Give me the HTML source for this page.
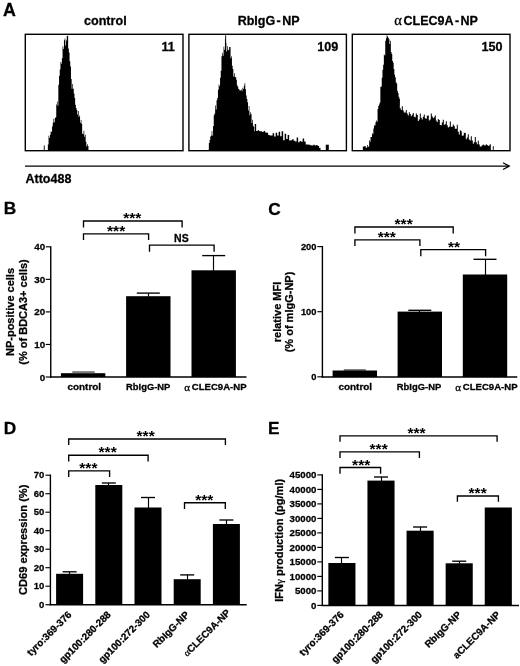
<!DOCTYPE html>
<html><head><meta charset="utf-8"><title>Figure</title>
<style>
html,body{margin:0;padding:0;background:#fff;}
body{width:520px;height:666px;overflow:hidden;font-family:"Liberation Sans", sans-serif;}
svg{display:block;filter:grayscale(1);}
text{stroke:#000;stroke-width:0.28px;stroke-linejoin:round;}
svg{font-family:"Liberation Sans", sans-serif;fill:#000;}
</style></head><body>
<svg width="520" height="666" viewBox="0 0 520 666">
<rect x="0" y="0" width="520" height="666" fill="#fff"/>
<text x="2.9" y="15.9" font-size="17.8" text-anchor="start" font-weight="bold" >A</text>
<text x="105.3" y="25" font-size="12.6" text-anchor="middle" font-weight="bold" >control</text>
<text x="237.7" y="25" font-size="12.5" text-anchor="start" font-weight="bold" >RbIgG<tspan dx="1.4">-</tspan><tspan dx="1.4">NP</tspan></text>
<text x="394.3" y="25" font-size="12.2" text-anchor="start" font-weight="bold" ><tspan font-family='"Liberation Serif", serif' font-weight="normal" font-size="14.5">α</tspan></text>
<text x="403.6" y="25" font-size="12.5" text-anchor="start" font-weight="bold" >CLEC9A<tspan dx="1.4">-</tspan><tspan dx="1.4">NP</tspan></text>
<rect x="25.3" y="34.3" width="157.7" height="116.39999999999999" fill="none" stroke="#000" stroke-width="1.4"/>
<rect x="188.9" y="34.3" width="157.49999999999997" height="116.39999999999999" fill="none" stroke="#000" stroke-width="1.4"/>
<rect x="352.3" y="34.3" width="157.7" height="116.39999999999999" fill="none" stroke="#000" stroke-width="1.4"/>
<text x="174.9" y="51.2" font-size="12.6" text-anchor="end" font-weight="bold" >11</text>
<text x="338.2" y="51.2" font-size="12.6" text-anchor="end" font-weight="bold" >109</text>
<text x="502.6" y="51.2" font-size="12.6" text-anchor="end" font-weight="bold" >150</text>
<polygon fill="#000" points="47.50,150.70 47.15,150.11 47.85,150.11 47.85,144.56 48.55,144.56 48.55,135.79 49.25,135.79 49.25,137.94 49.95,137.94 49.95,134.73 50.65,134.73 50.65,131.18 51.35,131.18 51.35,132.11 52.05,132.11 52.05,126.41 52.75,126.41 52.75,122.75 53.45,122.75 53.45,118.69 54.15,118.69 54.15,122.34 54.85,122.34 54.85,118.12 55.55,118.12 55.55,117.31 56.25,117.31 56.25,104.46 56.95,104.46 56.95,101.59 57.65,101.59 57.65,105.84 58.35,105.84 58.35,84.73 59.05,84.73 59.05,75.75 59.75,75.75 59.75,69.54 60.45,69.54 60.45,62.00 61.15,62.00 61.15,63.77 61.85,63.77 61.85,58.18 62.55,58.18 62.55,46.43 63.25,46.43 63.25,49.11 63.95,49.11 63.95,40.21 64.65,40.21 64.65,38.44 65.35,38.44 65.35,45.55 66.05,45.55 66.05,40.49 66.75,40.49 66.75,36.06 67.45,36.06 67.45,35.81 68.15,35.81 68.15,48.49 68.85,48.49 68.85,52.57 69.55,52.57 69.55,61.15 70.25,61.15 70.25,66.40 70.95,66.40 70.95,78.88 71.65,78.88 71.65,88.71 72.35,88.71 72.35,84.12 73.05,84.12 73.05,88.75 73.75,88.75 73.75,93.55 74.45,93.55 74.45,97.93 75.15,97.93 75.15,104.74 75.85,104.74 75.85,108.03 76.55,108.03 76.55,110.05 77.25,110.05 77.25,114.58 77.95,114.58 77.95,110.93 78.65,110.93 78.65,116.92 79.35,116.92 79.35,115.55 80.05,115.55 80.05,122.67 80.75,122.67 80.75,120.12 81.45,120.12 81.45,124.10 82.15,124.10 82.15,133.87 82.85,133.87 82.85,134.28 83.55,134.28 83.55,130.81 84.25,130.81 84.25,136.70 84.95,136.70 84.95,134.81 85.65,134.81 85.65,141.82 86.35,141.82 86.35,146.46 87.05,146.46 87.05,144.35 87.75,144.35 87.75,146.00 88.45,146.00 88.45,150.04 89.15,150.04 89.00,150.70"/>
<rect x="43.80" y="145.50" width="0.90" height="4.80" fill="#000"/>
<polygon fill="#000" points="208.50,150.70 208.15,149.73 208.85,149.73 208.85,142.89 209.55,142.89 209.55,140.05 210.25,140.05 210.25,136.55 210.95,136.55 210.95,135.56 211.65,135.56 211.65,131.12 212.35,131.12 212.35,135.77 213.05,135.77 213.05,126.10 213.75,126.10 213.75,115.28 214.45,115.28 214.45,113.60 215.15,113.60 215.15,105.46 215.85,105.46 215.85,109.57 216.55,109.57 216.55,100.37 217.25,100.37 217.25,98.01 217.95,98.01 217.95,89.76 218.65,89.76 218.65,84.50 219.35,84.50 219.35,86.33 220.05,86.33 220.05,77.71 220.75,77.71 220.75,70.64 221.45,70.64 221.45,56.13 222.15,56.13 222.15,52.78 222.85,52.78 222.85,55.75 223.55,55.75 223.55,46.87 224.25,46.87 224.25,49.87 224.95,49.87 224.95,38.60 225.65,38.60 225.65,42.72 226.35,42.72 226.35,51.60 227.05,51.60 227.05,46.19 227.75,46.19 227.75,49.81 228.45,49.81 228.45,50.21 229.15,50.21 229.15,47.10 229.85,47.10 229.85,46.88 230.55,46.88 230.55,58.23 231.25,58.23 231.25,56.22 231.95,56.22 231.95,65.78 232.65,65.78 232.65,69.04 233.35,69.04 233.35,76.50 234.05,76.50 234.05,73.32 234.75,73.32 234.75,76.93 235.45,76.93 235.45,77.18 236.15,77.18 236.15,79.63 236.85,79.63 236.85,85.27 237.55,85.27 237.55,86.70 238.25,86.70 238.25,88.98 238.95,88.98 238.95,89.59 239.65,89.59 239.65,90.69 240.35,90.69 240.35,90.29 241.05,90.29 241.05,89.42 241.75,89.42 241.75,91.15 242.45,91.15 242.45,87.76 243.15,87.76 243.15,88.97 243.85,88.97 243.85,85.80 244.55,85.80 244.55,83.30 245.25,83.30 245.25,89.33 245.95,89.33 245.95,95.60 246.65,95.60 246.65,99.10 247.35,99.10 247.35,102.21 248.05,102.21 248.05,110.61 248.75,110.61 248.75,106.04 249.45,106.04 249.45,115.13 250.15,115.13 250.15,112.34 250.85,112.34 250.85,113.94 251.55,113.94 251.55,122.96 252.25,122.96 252.25,119.82 252.95,119.82 252.95,125.82 253.65,125.82 253.65,127.11 254.35,127.11 254.35,131.35 255.05,131.35 254.65,124.12 256.15,124.12 256.15,131.10 257.65,131.10 257.65,130.13 259.15,130.13 259.15,131.26 260.65,131.26 260.65,131.16 262.15,131.16 262.15,132.03 263.65,132.03 263.65,131.12 265.15,131.12 265.15,132.53 266.65,132.53 266.65,132.64 268.15,132.64 268.15,134.88 269.65,134.88 269.65,135.53 271.15,135.53 271.15,135.42 272.65,135.42 272.65,133.19 274.15,133.19 274.15,136.49 275.65,136.49 275.65,132.66 277.15,132.66 277.15,135.58 278.65,135.58 278.65,131.85 280.15,131.85 280.15,136.28 281.65,136.28 281.65,131.21 283.15,131.21 283.15,140.28 284.65,140.28 284.65,133.64 286.15,133.64 286.15,138.97 287.65,138.97 287.65,135.07 289.15,135.07 289.15,140.40 290.65,140.40 290.65,140.25 292.15,140.25 292.15,139.20 293.65,139.20 293.65,140.76 295.15,140.76 295.15,141.60 296.65,141.60 296.65,137.56 298.15,137.56 298.15,142.28 299.65,142.28 299.65,140.99 301.15,140.99 301.15,141.64 302.65,141.64 302.65,138.57 304.15,138.57 304.15,141.52 305.65,141.52 305.65,144.62 307.15,144.62 307.15,144.59 308.65,144.59 308.65,144.80 310.15,144.80 310.15,145.32 311.65,145.32 311.65,145.49 313.15,145.49 313.15,144.74 314.65,144.74 314.65,145.53 316.15,145.53 316.15,145.00 317.65,145.00 317.65,146.06 319.15,146.06 319.15,148.05 320.65,148.05 320.30,150.70"/>
<rect x="325.80" y="144.70" width="3.00" height="6.00" fill="#000"/>
<rect x="225.20" y="35.30" width="0.90" height="12.00" fill="#000"/>
<polygon fill="#000" points="362.50,150.70 362.15,150.58 362.85,150.58 362.85,146.25 363.55,146.25 363.55,146.88 364.25,146.88 364.25,146.03 364.95,146.03 364.95,145.90 365.65,145.90 365.65,147.58 366.35,147.58 366.35,147.68 367.05,147.68 367.05,145.05 367.75,145.05 367.75,147.00 368.45,147.00 368.45,146.56 369.15,146.56 369.15,140.29 369.85,140.29 369.85,141.72 370.55,141.72 370.55,136.88 371.25,136.88 371.25,136.91 371.95,136.91 371.95,133.25 372.65,133.25 372.65,134.22 373.35,134.22 373.35,128.57 374.05,128.57 374.05,125.30 374.75,125.30 374.75,125.59 375.45,125.59 375.45,122.18 376.15,122.18 376.15,120.48 376.85,120.48 376.85,121.71 377.55,121.71 377.55,109.09 378.25,109.09 378.25,106.05 378.95,106.05 378.95,104.47 379.65,104.47 379.65,102.56 380.35,102.56 380.35,86.99 381.05,86.99 381.05,86.40 381.75,86.40 381.75,77.84 382.45,77.84 382.45,69.78 383.15,69.78 383.15,64.85 383.85,64.85 383.85,54.47 384.55,54.47 384.55,55.51 385.25,55.51 385.25,40.69 385.95,40.69 385.95,38.22 386.65,38.22 386.65,35.30 387.35,35.30 387.35,36.42 388.05,36.42 388.05,37.81 388.75,37.81 388.75,39.33 389.45,39.33 389.45,43.91 390.15,43.91 390.15,40.70 390.85,40.70 390.85,51.95 391.55,51.95 391.55,54.01 392.25,54.01 392.25,61.01 392.95,61.01 392.95,62.83 393.65,62.83 393.65,69.05 394.35,69.05 394.35,74.79 395.05,74.79 395.05,77.25 395.75,77.25 395.75,82.37 396.45,82.37 396.45,83.53 397.15,83.53 397.15,90.82 397.85,90.82 397.85,92.92 398.55,92.92 398.55,96.70 399.25,96.70 399.25,98.86 399.95,98.86 399.80,108.36 400.80,108.36 400.80,109.97 401.80,109.97 401.80,106.36 402.80,106.36 402.80,110.61 403.80,110.61 403.80,112.42 404.80,112.42 404.80,112.55 405.80,112.55 405.80,110.08 406.80,110.08 406.80,113.44 407.80,113.44 407.80,115.40 408.80,115.40 408.80,112.35 409.80,112.35 409.80,113.95 410.80,113.95 410.80,116.21 411.80,116.21 411.80,114.71 412.80,114.71 412.80,113.06 413.80,113.06 413.80,116.78 414.80,116.78 414.80,117.30 415.80,117.30 415.80,113.56 416.80,113.56 416.80,114.90 417.80,114.90 417.80,121.08 418.80,121.08 418.80,119.59 419.80,119.59 419.80,113.55 420.80,113.55 420.80,117.77 421.80,117.77 421.80,119.54 422.80,119.54 422.80,116.65 423.80,116.65 423.80,114.55 424.80,114.55 424.80,118.17 425.80,118.17 425.80,118.70 426.80,118.70 426.80,115.81 427.80,115.81 427.80,115.60 428.80,115.60 428.80,120.45 429.80,120.45 429.80,119.54 430.80,119.54 430.80,113.40 431.80,113.40 431.80,116.56 432.80,116.56 432.80,118.28 433.80,118.28 433.80,117.35 434.80,117.35 434.80,115.39 435.80,115.39 435.80,120.53 436.80,120.53 436.80,121.91 437.80,121.91 437.80,119.03 438.80,119.03 438.80,120.03 439.80,120.03 439.80,125.00 440.80,125.00 440.80,125.35 441.80,125.35 441.80,122.60 442.80,122.60 442.80,119.87 443.80,119.87 443.80,124.85 444.80,124.85 444.80,124.30 445.80,124.30 445.80,121.14 446.80,121.14 446.80,125.25 447.80,125.25 447.80,127.40 448.80,127.40 448.80,126.75 449.80,126.75 449.80,121.54 450.80,121.54 450.80,126.69 451.80,126.69 451.80,126.75 452.80,126.75 452.80,124.45 453.80,124.45 453.80,126.08 454.80,126.08 454.80,128.84 455.80,128.84 455.80,128.76 456.80,128.76 456.80,124.87 457.80,124.87 457.80,131.67 458.80,131.67 458.80,134.56 459.80,134.56 459.80,130.28 460.80,130.28 460.80,131.31 461.80,131.31 461.80,135.76 462.80,135.76 462.80,135.62 463.80,135.62 463.80,132.72 464.80,132.72 464.80,132.92 465.80,132.92 465.80,139.19 466.80,139.19 466.80,137.57 467.80,137.57 467.80,134.23 468.80,134.23 468.80,139.61 469.80,139.61 469.80,140.45 470.80,140.45 470.80,136.29 471.80,136.29 471.80,140.58 472.80,140.58 472.80,143.70 473.80,143.70 473.80,142.29 474.80,142.29 474.80,136.98 475.80,136.98 475.80,142.33 476.80,142.33 476.80,144.15 477.80,144.15 477.80,140.68 478.80,140.68 478.80,144.41 479.80,144.41 479.80,146.48 480.80,146.48 480.80,146.44 481.80,146.44 481.80,145.15 482.80,145.15 482.80,144.47 483.80,144.47 483.80,145.14 484.80,145.14 484.80,145.48 485.80,145.48 485.80,144.19 486.80,144.19 486.80,144.94 487.80,144.94 487.80,145.89 488.80,145.89 488.80,145.49 489.80,145.49 489.80,144.27 490.80,144.27 490.80,150.52 491.80,150.52 491.80,150.70 492.80,150.70 492.80,146.36 493.80,146.36 493.60,150.70"/>
<line x1="25" y1="166.1" x2="509.0" y2="166.1" stroke="#000" stroke-width="1.45" />
<polyline fill="none" stroke="#000" stroke-width="1.25" points="503.0,162.7 509.3,166.1 503.0,169.5"/>
<text x="25.5" y="182.8" font-size="12.5" text-anchor="start" font-weight="bold" >Atto488</text>
<text x="3.8" y="214.2" font-size="17.3" text-anchor="start" font-weight="bold" >B</text>
<line x1="50.75" y1="246.15" x2="50.75" y2="377.7" stroke="#000" stroke-width="1.4" />
<line x1="45.75" y1="377.0" x2="50.75" y2="377.0" stroke="#000" stroke-width="1.15" />
<text x="45.15" y="380.5084" font-size="9.8" text-anchor="end" font-weight="bold" >0</text>
<line x1="45.75" y1="344.45" x2="50.75" y2="344.45" stroke="#000" stroke-width="1.15" />
<text x="45.15" y="347.9584" font-size="9.8" text-anchor="end" font-weight="bold" >10</text>
<line x1="45.75" y1="311.9" x2="50.75" y2="311.9" stroke="#000" stroke-width="1.15" />
<text x="45.15" y="315.4084" font-size="9.8" text-anchor="end" font-weight="bold" >20</text>
<line x1="45.75" y1="279.35" x2="50.75" y2="279.35" stroke="#000" stroke-width="1.15" />
<text x="45.15" y="282.8584" font-size="9.8" text-anchor="end" font-weight="bold" >30</text>
<line x1="45.75" y1="246.8" x2="50.75" y2="246.8" stroke="#000" stroke-width="1.15" />
<text x="45.15" y="250.3084" font-size="9.8" text-anchor="end" font-weight="bold" >40</text>
<line x1="50.05" y1="377" x2="246.5" y2="377" stroke="#000" stroke-width="1.5" />
<rect x="60.90" y="373.20" width="44.40" height="3.80" fill="#000"/>
<rect x="126.10" y="296.20" width="44.40" height="80.80" fill="#000"/>
<line x1="148.5" y1="293.1" x2="148.5" y2="296.7" stroke="#000" stroke-width="1.15" />
<line x1="136.8" y1="293.1" x2="159.8" y2="293.1" stroke="#000" stroke-width="1.35" />
<rect x="191.50" y="270.30" width="44.40" height="106.70" fill="#000"/>
<line x1="213.5" y1="255.6" x2="213.5" y2="270.8" stroke="#000" stroke-width="1.15" />
<line x1="202.2" y1="255.6" x2="225.2" y2="255.6" stroke="#000" stroke-width="1.35" />
<rect x="72.3" y="371.3" width="22.4" height="1.5" fill="#5a5a5a"/>
<text x="84.3" y="390.3" font-size="9.3" text-anchor="middle" font-weight="bold" textLength="33.6" lengthAdjust="spacingAndGlyphs" >control</text>
<text x="148.2" y="390.3" font-size="9.3" text-anchor="middle" font-weight="bold" textLength="44.2" lengthAdjust="spacingAndGlyphs" >RbIgG-NP</text>
<text x="184.3" y="391" font-size="11" text-anchor="start" font-weight="bold" ><tspan font-family='"Liberation Serif", serif' font-weight="normal" font-style="normal">α</tspan></text>
<text x="191.8" y="390.3" font-size="9.3" text-anchor="start" font-weight="bold" textLength="54.8" lengthAdjust="spacingAndGlyphs" >CLEC9A-NP</text>
<polyline fill="none" stroke="#000" stroke-width="1.35" points="83.5,227.4 83.5,221 182.1,221 182.1,227.4"/>
<text x="132.3" y="223.00" font-size="14.5" text-anchor="middle" font-weight="bold" style="stroke-width:0" textLength="18.2" lengthAdjust="spacingAndGlyphs">***</text>
<polyline fill="none" stroke="#000" stroke-width="1.35" points="83.5,239.9 83.5,233.9 148.6,233.9 148.6,239.9"/>
<text x="116.1" y="235.90" font-size="14.5" text-anchor="middle" font-weight="bold" style="stroke-width:0" textLength="18.2" lengthAdjust="spacingAndGlyphs">***</text>
<polyline fill="none" stroke="#000" stroke-width="1.35" points="149.5,251.7 149.5,245.1 214.1,245.1 214.1,251.7"/>
<text x="181.4" y="241.6" font-size="10.5" text-anchor="middle" font-weight="bold" >NS</text>
<text transform="translate(13.8,312) rotate(-90)" font-size="11" text-anchor="middle" font-weight="bold">NP-positive cells</text>
<text transform="translate(27.2,312) rotate(-90)" font-size="11" text-anchor="middle" font-weight="bold">(% of BDCA3+ cells)</text>
<text x="268.3" y="215" font-size="17.3" text-anchor="start" font-weight="bold" >C</text>
<line x1="322.4" y1="245.95000000000002" x2="322.4" y2="377.7" stroke="#000" stroke-width="1.4" />
<line x1="317.4" y1="376.8" x2="322.4" y2="376.8" stroke="#000" stroke-width="1.15" />
<text x="316.4" y="380.12940000000003" font-size="9.3" text-anchor="end" font-weight="bold" >0</text>
<line x1="317.4" y1="311.70000000000005" x2="322.4" y2="311.70000000000005" stroke="#000" stroke-width="1.15" />
<text x="316.4" y="315.02940000000007" font-size="9.3" text-anchor="end" font-weight="bold" >100</text>
<line x1="317.4" y1="246.60000000000002" x2="322.4" y2="246.60000000000002" stroke="#000" stroke-width="1.15" />
<text x="316.4" y="249.92940000000002" font-size="9.3" text-anchor="end" font-weight="bold" >200</text>
<line x1="321.7" y1="376.9" x2="517.3" y2="376.9" stroke="#000" stroke-width="1.5" />
<rect x="332.60" y="370.50" width="44.40" height="6.50" fill="#000"/>
<rect x="397.60" y="311.60" width="44.40" height="65.40" fill="#000"/>
<line x1="419.5" y1="310.3" x2="419.5" y2="312.1" stroke="#000" stroke-width="1.15" />
<line x1="408.3" y1="310.3" x2="431.3" y2="310.3" stroke="#000" stroke-width="1.35" />
<rect x="462.80" y="274.50" width="44.40" height="102.50" fill="#000"/>
<line x1="485.5" y1="259.3" x2="485.5" y2="275.0" stroke="#000" stroke-width="1.15" />
<line x1="473.5" y1="259.3" x2="496.5" y2="259.3" stroke="#000" stroke-width="1.35" />
<line x1="343.8" y1="370" x2="365.8" y2="370" stroke="#000" stroke-width="1.0" />
<text x="355.3" y="390.3" font-size="9.3" text-anchor="middle" font-weight="bold" textLength="33.6" lengthAdjust="spacingAndGlyphs" >control</text>
<text x="419.0" y="390.3" font-size="9.3" text-anchor="middle" font-weight="bold" textLength="44.4" lengthAdjust="spacingAndGlyphs" >RbIgG-NP</text>
<text x="455.2" y="391" font-size="11" text-anchor="start" font-weight="bold" ><tspan font-family='"Liberation Serif", serif' font-weight="normal" font-style="normal">α</tspan></text>
<text x="462.8" y="390.3" font-size="9.3" text-anchor="start" font-weight="bold" textLength="54.8" lengthAdjust="spacingAndGlyphs" >CLEC9A-NP</text>
<polyline fill="none" stroke="#000" stroke-width="1.35" points="354.9,233.4 354.9,227 453.2,227 453.2,233.4"/>
<text x="403.6" y="229.00" font-size="14.5" text-anchor="middle" font-weight="bold" style="stroke-width:0" textLength="18.2" lengthAdjust="spacingAndGlyphs">***</text>
<polyline fill="none" stroke="#000" stroke-width="1.35" points="354.9,246.0 354.9,239.8 419.9,239.8 419.9,246.0"/>
<text x="386.8" y="241.80" font-size="14.5" text-anchor="middle" font-weight="bold" style="stroke-width:0" textLength="18.2" lengthAdjust="spacingAndGlyphs">***</text>
<polyline fill="none" stroke="#000" stroke-width="1.35" points="420.8,256.2 420.8,249.6 485.6,249.6 485.6,256.2"/>
<text x="454.1" y="251.60" font-size="14.5" text-anchor="middle" font-weight="bold" style="stroke-width:0" textLength="12.0" lengthAdjust="spacingAndGlyphs">**</text>
<text transform="translate(280.5,312) rotate(-90)" font-size="11" text-anchor="middle" font-weight="bold">relative MFI</text>
<text transform="translate(292.9,312) rotate(-90)" font-size="11" text-anchor="middle" font-weight="bold">(% of mIgG-NP)</text>
<text x="3.8" y="433.9" font-size="17.3" text-anchor="start" font-weight="bold" >D</text>
<line x1="50.4" y1="474.55000000000007" x2="50.4" y2="605.4000000000001" stroke="#000" stroke-width="1.4" />
<line x1="45.4" y1="604.7" x2="50.4" y2="604.7" stroke="#000" stroke-width="1.15" />
<text x="44.4" y="607.701" font-size="9.5" text-anchor="end" font-weight="bold" >0</text>
<line x1="45.4" y1="586.2" x2="50.4" y2="586.2" stroke="#000" stroke-width="1.15" />
<text x="44.4" y="589.201" font-size="9.5" text-anchor="end" font-weight="bold" >10</text>
<line x1="45.4" y1="567.7" x2="50.4" y2="567.7" stroke="#000" stroke-width="1.15" />
<text x="44.4" y="570.701" font-size="9.5" text-anchor="end" font-weight="bold" >20</text>
<line x1="45.4" y1="549.2" x2="50.4" y2="549.2" stroke="#000" stroke-width="1.15" />
<text x="44.4" y="552.201" font-size="9.5" text-anchor="end" font-weight="bold" >30</text>
<line x1="45.4" y1="530.7" x2="50.4" y2="530.7" stroke="#000" stroke-width="1.15" />
<text x="44.4" y="533.701" font-size="9.5" text-anchor="end" font-weight="bold" >40</text>
<line x1="45.4" y1="512.2" x2="50.4" y2="512.2" stroke="#000" stroke-width="1.15" />
<text x="44.4" y="515.201" font-size="9.5" text-anchor="end" font-weight="bold" >50</text>
<line x1="45.4" y1="493.70000000000005" x2="50.4" y2="493.70000000000005" stroke="#000" stroke-width="1.15" />
<text x="44.4" y="496.7010000000001" font-size="9.5" text-anchor="end" font-weight="bold" >60</text>
<line x1="45.4" y1="475.20000000000005" x2="50.4" y2="475.20000000000005" stroke="#000" stroke-width="1.15" />
<text x="44.4" y="478.2010000000001" font-size="9.5" text-anchor="end" font-weight="bold" >70</text>
<line x1="49.699999999999996" y1="604.8" x2="246.7" y2="604.8" stroke="#000" stroke-width="1.5" />
<rect x="56.10" y="573.80" width="27.00" height="31.00" fill="#000"/>
<line x1="69.5" y1="571.8" x2="69.5" y2="574.3" stroke="#000" stroke-width="1.15" />
<line x1="62.599999999999994" y1="571.8" x2="76.6" y2="571.8" stroke="#000" stroke-width="1.35" />
<rect x="95.30" y="485.00" width="27.00" height="119.80" fill="#000"/>
<line x1="108.5" y1="483" x2="108.5" y2="485.5" stroke="#000" stroke-width="1.15" />
<line x1="101.8" y1="483" x2="115.8" y2="483" stroke="#000" stroke-width="1.35" />
<rect x="134.50" y="507.50" width="27.00" height="97.30" fill="#000"/>
<line x1="148.5" y1="497.5" x2="148.5" y2="508.0" stroke="#000" stroke-width="1.15" />
<line x1="141.0" y1="497.5" x2="155.0" y2="497.5" stroke="#000" stroke-width="1.35" />
<rect x="173.70" y="579.20" width="27.00" height="25.60" fill="#000"/>
<line x1="187.5" y1="574.9" x2="187.5" y2="579.7" stroke="#000" stroke-width="1.15" />
<line x1="180.2" y1="574.9" x2="194.2" y2="574.9" stroke="#000" stroke-width="1.35" />
<rect x="212.90" y="524.00" width="27.00" height="80.80" fill="#000"/>
<line x1="226.5" y1="520" x2="226.5" y2="524.5" stroke="#000" stroke-width="1.15" />
<line x1="219.4" y1="520" x2="233.4" y2="520" stroke="#000" stroke-width="1.35" />
<polyline fill="none" stroke="#000" stroke-width="1.35" points="68.7,445.0 68.7,439 225.4,439 225.4,445.0"/>
<text x="145.6" y="441.00" font-size="14.5" text-anchor="middle" font-weight="bold" style="stroke-width:0" textLength="18.2" lengthAdjust="spacingAndGlyphs">***</text>
<polyline fill="none" stroke="#000" stroke-width="1.35" points="68.7,461.4 68.7,455.2 148.1,455.2 148.1,461.4"/>
<text x="107.6" y="457.20" font-size="14.5" text-anchor="middle" font-weight="bold" style="stroke-width:0" textLength="18.2" lengthAdjust="spacingAndGlyphs">***</text>
<polyline fill="none" stroke="#000" stroke-width="1.35" points="68.7,476.90000000000003 68.7,470.8 109.6,470.8 109.6,476.90000000000003"/>
<text x="88.4" y="472.80" font-size="14.5" text-anchor="middle" font-weight="bold" style="stroke-width:0" textLength="18.2" lengthAdjust="spacingAndGlyphs">***</text>
<polyline fill="none" stroke="#000" stroke-width="1.35" points="184.5,508.9 184.5,502.7 225.3,502.7 225.3,508.9"/>
<text x="204.3" y="504.70" font-size="14.5" text-anchor="middle" font-weight="bold" style="stroke-width:0" textLength="18.2" lengthAdjust="spacingAndGlyphs">***</text>
<text transform="translate(27.0,539.8) rotate(-90)" font-size="11.1" text-anchor="middle" font-weight="bold">CD69 expression (%)</text>
<text transform="translate(72.2,615.3) rotate(-45)" font-size="9.9" text-anchor="end" font-weight="bold">tyro:369-376</text>
<text transform="translate(111.4,615.3) rotate(-45)" font-size="9.9" text-anchor="end" font-weight="bold">gp100:280-288</text>
<text transform="translate(150.6,615.3) rotate(-45)" font-size="9.9" text-anchor="end" font-weight="bold">gp100:272-300</text>
<text transform="translate(189.8,615.3) rotate(-45)" font-size="9.9" text-anchor="end" font-weight="bold">RbIgG-NP</text>
<text transform="translate(231.0,613.3) rotate(-45)" font-size="9.9" text-anchor="end" font-weight="bold"><tspan font-family='"Liberation Serif", serif' font-weight="normal" font-style="normal">α</tspan>CLEC9A-NP</text>
<text x="268.1" y="433.9" font-size="17.3" text-anchor="start" font-weight="bold" >E</text>
<line x1="322.3" y1="474.25" x2="322.3" y2="606.1" stroke="#000" stroke-width="1.4" />
<line x1="317.3" y1="605.4" x2="322.3" y2="605.4" stroke="#000" stroke-width="1.15" />
<text x="316.5" y="608.8725999999999" font-size="9.7" text-anchor="end" font-weight="bold" >0</text>
<line x1="317.3" y1="590.9" x2="322.3" y2="590.9" stroke="#000" stroke-width="1.15" />
<text x="316.5" y="594.3725999999999" font-size="9.7" text-anchor="end" font-weight="bold" >5000</text>
<line x1="317.3" y1="576.4" x2="322.3" y2="576.4" stroke="#000" stroke-width="1.15" />
<text x="316.5" y="579.8725999999999" font-size="9.7" text-anchor="end" font-weight="bold" >10000</text>
<line x1="317.3" y1="561.9" x2="322.3" y2="561.9" stroke="#000" stroke-width="1.15" />
<text x="316.5" y="565.3725999999999" font-size="9.7" text-anchor="end" font-weight="bold" >15000</text>
<line x1="317.3" y1="547.4" x2="322.3" y2="547.4" stroke="#000" stroke-width="1.15" />
<text x="316.5" y="550.8725999999999" font-size="9.7" text-anchor="end" font-weight="bold" >20000</text>
<line x1="317.3" y1="532.9" x2="322.3" y2="532.9" stroke="#000" stroke-width="1.15" />
<text x="316.5" y="536.3725999999999" font-size="9.7" text-anchor="end" font-weight="bold" >25000</text>
<line x1="317.3" y1="518.4" x2="322.3" y2="518.4" stroke="#000" stroke-width="1.15" />
<text x="316.5" y="521.8725999999999" font-size="9.7" text-anchor="end" font-weight="bold" >30000</text>
<line x1="317.3" y1="503.9" x2="322.3" y2="503.9" stroke="#000" stroke-width="1.15" />
<text x="316.5" y="507.3726" font-size="9.7" text-anchor="end" font-weight="bold" >35000</text>
<line x1="317.3" y1="489.4" x2="322.3" y2="489.4" stroke="#000" stroke-width="1.15" />
<text x="316.5" y="492.8726" font-size="9.7" text-anchor="end" font-weight="bold" >40000</text>
<line x1="317.3" y1="474.9" x2="322.3" y2="474.9" stroke="#000" stroke-width="1.15" />
<text x="316.5" y="478.3726" font-size="9.7" text-anchor="end" font-weight="bold" >45000</text>
<line x1="321.6" y1="605.4" x2="519" y2="605.4" stroke="#000" stroke-width="1.5" />
<rect x="328.35" y="563.00" width="27.10" height="42.40" fill="#000"/>
<line x1="341.5" y1="557.5" x2="341.5" y2="563.5" stroke="#000" stroke-width="1.15" />
<line x1="334.9" y1="557.5" x2="348.9" y2="557.5" stroke="#000" stroke-width="1.35" />
<rect x="367.45" y="480.60" width="27.10" height="124.80" fill="#000"/>
<line x1="381.5" y1="477" x2="381.5" y2="481.1" stroke="#000" stroke-width="1.15" />
<line x1="374.0" y1="477" x2="388.0" y2="477" stroke="#000" stroke-width="1.35" />
<rect x="406.55" y="530.70" width="27.10" height="74.70" fill="#000"/>
<line x1="420.5" y1="527" x2="420.5" y2="531.2" stroke="#000" stroke-width="1.15" />
<line x1="413.09999999999997" y1="527" x2="427.09999999999997" y2="527" stroke="#000" stroke-width="1.35" />
<rect x="445.65" y="563.30" width="27.10" height="42.10" fill="#000"/>
<line x1="459.5" y1="561.2" x2="459.5" y2="563.8" stroke="#000" stroke-width="1.15" />
<line x1="452.2" y1="561.2" x2="466.2" y2="561.2" stroke="#000" stroke-width="1.35" />
<rect x="484.75" y="507.50" width="27.10" height="97.90" fill="#000"/>
<polyline fill="none" stroke="#000" stroke-width="1.35" points="340,441.7 340,435.8 497.1,435.8 497.1,441.7"/>
<text x="416.5" y="437.80" font-size="14.5" text-anchor="middle" font-weight="bold" style="stroke-width:0" textLength="18.2" lengthAdjust="spacingAndGlyphs">***</text>
<polyline fill="none" stroke="#000" stroke-width="1.35" points="340,458.0 340,451.8 419.4,451.8 419.4,458.0"/>
<text x="378.6" y="453.80" font-size="14.5" text-anchor="middle" font-weight="bold" style="stroke-width:0" textLength="18.2" lengthAdjust="spacingAndGlyphs">***</text>
<polyline fill="none" stroke="#000" stroke-width="1.35" points="340,473.7 340,467.5 380.6,467.5 380.6,473.7"/>
<text x="361.2" y="469.50" font-size="14.5" text-anchor="middle" font-weight="bold" style="stroke-width:0" textLength="18.2" lengthAdjust="spacingAndGlyphs">***</text>
<polyline fill="none" stroke="#000" stroke-width="1.35" points="457.4,501.8 457.4,496 498.4,496 498.4,501.8"/>
<text x="477.6" y="498.00" font-size="14.5" text-anchor="middle" font-weight="bold" style="stroke-width:0" textLength="18.2" lengthAdjust="spacingAndGlyphs">***</text>
<text transform="translate(283.3,540.3) rotate(-90)" font-size="11.0" text-anchor="middle" font-weight="bold">IFN<tspan font-family='"Liberation Serif", serif' font-weight="normal">γ</tspan> production (pg/ml)</text>
<text transform="translate(344.5,615.3) rotate(-45)" font-size="9.9" text-anchor="end" font-weight="bold">tyro:369-376</text>
<text transform="translate(383.6,615.3) rotate(-45)" font-size="9.9" text-anchor="end" font-weight="bold">gp100:280-288</text>
<text transform="translate(422.7,615.3) rotate(-45)" font-size="9.9" text-anchor="end" font-weight="bold">gp100:272-300</text>
<text transform="translate(461.8,615.3) rotate(-45)" font-size="9.9" text-anchor="end" font-weight="bold">RbIgG-NP</text>
<text transform="translate(500.9,615.3) rotate(-45)" font-size="9.9" text-anchor="end" font-weight="bold">aCLEC9A-NP</text>
</svg>
</body></html>
